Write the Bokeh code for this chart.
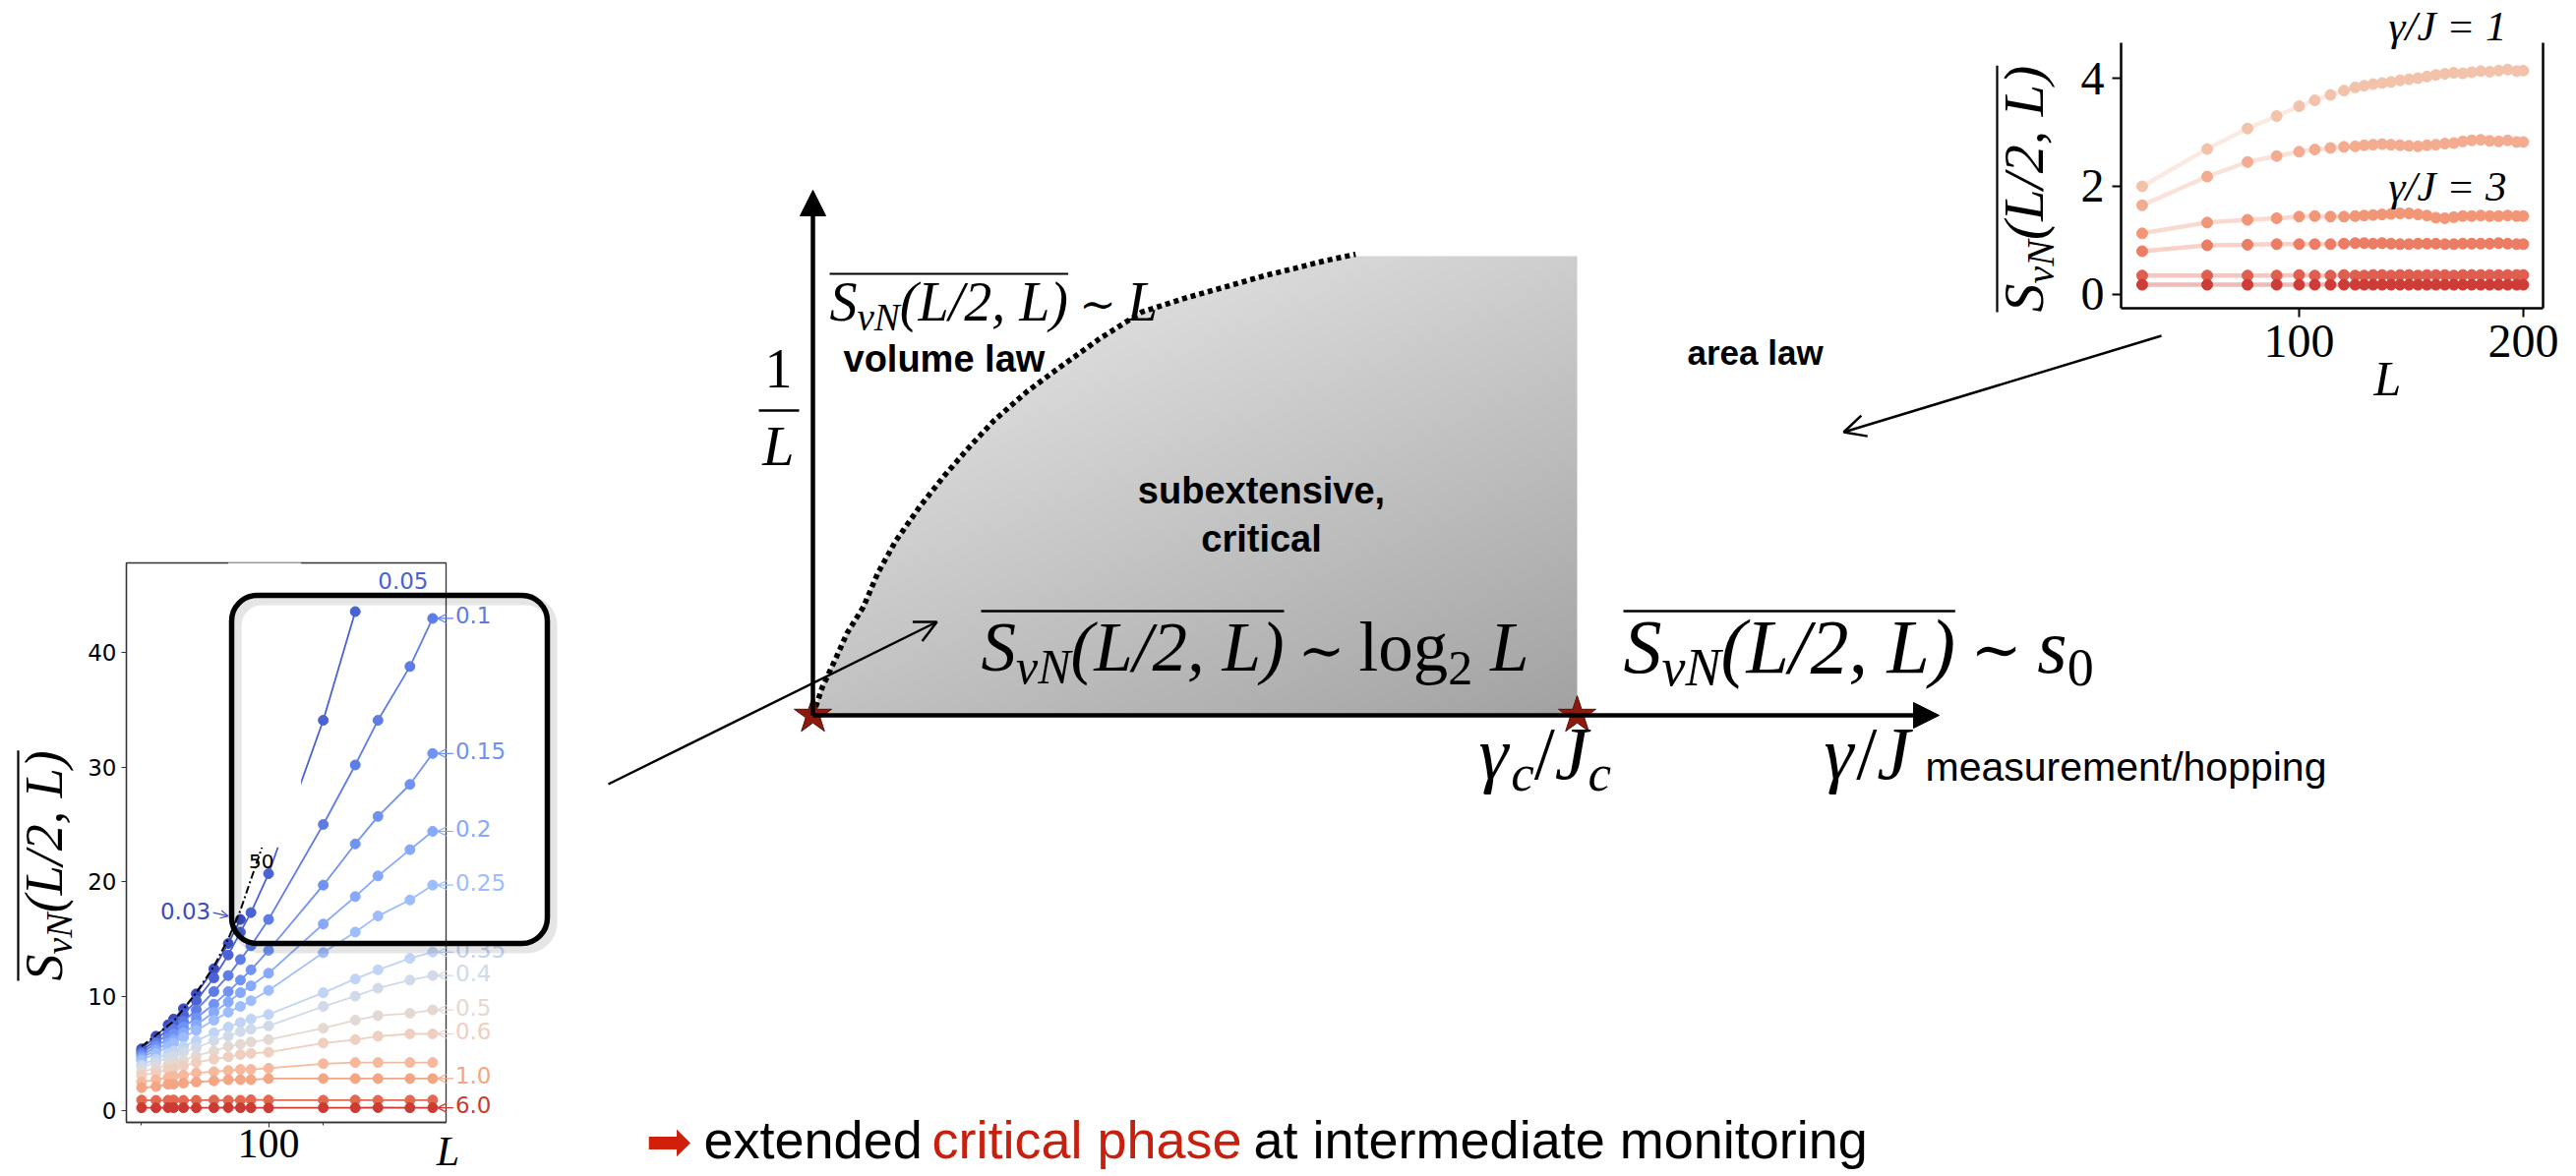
import numpy as np
from math import pi, log10

from bokeh.plotting import figure
from bokeh.layouts import column
from bokeh.models import (Range1d, Label, Arrow, OpenHead, NormalHead, BoxAnnotation,
                          FixedTicker, PrintfTickFormatter, LinearAxis, GridBox)
from bokeh.embed import file_html
from bokeh.resources import INLINE

SERIF = "Liberation Serif"
SANS = "Liberation Sans"

# ---------------- left inset: half-chain entanglement vs L ----------------
L_left = [20, 24, 28, 30, 34, 40, 50, 60, 70, 80, 100, 200, 300, 400, 600, 800]
S_g003 = [5.4, 6.5, 7.5, 8.0, 8.9, 10.2, 12.4, 14.6, 16.7]
S_g005 = [5.2, 6.2, 7.1, 7.6, 8.4, 9.6, 11.6, 13.6, 15.6, 17.3, 20.7, 34.1, 43.6]
S_g010 = [5.0, 5.9, 6.7, 7.1, 7.8, 8.8, 10.4, 11.8, 13.2, 14.4, 16.7, 25.0, 30.2, 34.1, 38.8, 43.0]
S_g015 = [4.8, 5.6, 6.3, 6.7, 7.3, 8.1, 9.3, 10.4, 11.4, 12.3, 14.0, 19.7, 23.3, 25.7, 28.5, 31.2]
S_g020 = [4.6, 5.3, 5.9, 6.2, 6.8, 7.5, 8.6, 9.5, 10.3, 10.9, 12.0, 16.3, 18.7, 20.5, 22.8, 24.4]
S_g025 = [4.4, 5.0, 5.6, 5.9, 6.4, 7.0, 7.9, 8.6, 9.1, 9.6, 10.5, 13.8, 15.6, 17.0, 18.4, 19.7]
S_g035 = [4.0, 4.5, 5.0, 5.2, 5.6, 6.1, 6.8, 7.3, 7.7, 8.0, 8.4, 10.3, 11.5, 12.3, 13.3, 13.85]
S_g040 = [3.8, 4.2, 4.6, 4.8, 5.1, 5.5, 6.1, 6.5, 6.9, 7.1, 7.4, 9.1, 10.0, 10.7, 11.4, 11.8]
S_g050 = [3.4, 3.7, 4.0, 4.2, 4.4, 4.8, 5.2, 5.6, 5.8, 6.0, 6.2, 7.2, 7.9, 8.3, 8.5, 8.8]
S_g060 = [3.1, 3.3, 3.6, 3.7, 3.9, 4.2, 4.5, 4.7, 4.9, 5.0, 5.1, 5.9, 6.2, 6.5, 6.7, 6.7]
S_g080 = [2.5, 2.7, 2.9, 3.0, 3.1, 3.3, 3.4, 3.5, 3.6, 3.6, 3.7, 4.1, 4.2, 4.2, 4.2, 4.2]
S_g100 = [2.0, 2.1, 2.3, 2.3, 2.4, 2.5, 2.6, 2.7, 2.7, 2.7, 2.8, 2.8, 2.8, 2.8, 2.8, 2.8]
S_g300 = [0.92, 0.90, 0.91, 0.93, 0.90, 0.91, 0.92, 0.90, 0.91, 0.95, 0.92, 0.91, 0.92, 0.91, 0.91, 0.92]
S_g600 = [0.25, 0.24, 0.26, 0.25, 0.25, 0.24, 0.25, 0.26, 0.25, 0.25, 0.24, 0.25, 0.25, 0.26, 0.25, 0.25]
# dash-dot reference line
L_ref = [20, 30, 40, 50, 60, 70, 80, 92]
S_ref = [5.6, 7.8, 10.3, 12.6, 15.0, 17.5, 20.2, 23.0]

# ---------------- right inset: area-law saturation ----------------
L_right = [30, 59, 77, 90, 100, 107, 114, 120, 125, 129, 133, 137, 141, 145, 149, 153, 157,
           161, 165, 169, 173, 177, 181, 185, 189, 193, 197, 200]
S_gJ1 = [2.00, 2.69, 3.07, 3.30, 3.48, 3.59, 3.69, 3.77, 3.83, 3.86, 3.89, 3.91, 3.93, 3.96,
         3.98, 4.00, 4.03, 4.06, 4.08, 4.10, 4.09, 4.11, 4.13, 4.12, 4.14, 4.16, 4.13, 4.14]
S_gJ2 = [1.65, 2.18, 2.45, 2.56, 2.64, 2.68, 2.71, 2.73, 2.74, 2.76, 2.77, 2.78, 2.77, 2.76,
         2.75, 2.74, 2.76, 2.77, 2.79, 2.80, 2.83, 2.85, 2.86, 2.84, 2.83, 2.85, 2.82, 2.82]
S_gJ3 = [1.13, 1.33, 1.38, 1.41, 1.44, 1.45, 1.44, 1.44, 1.45, 1.46, 1.47, 1.48, 1.49, 1.50,
         1.50, 1.48, 1.46, 1.42, 1.41, 1.43, 1.45, 1.45, 1.46, 1.45, 1.45, 1.46, 1.45, 1.45]
S_gJ4 = [0.80, 0.91, 0.92, 0.93, 0.93, 0.93, 0.93, 0.94, 0.95, 0.95, 0.94, 0.95, 0.94, 0.93,
         0.93, 0.94, 0.94, 0.94, 0.93, 0.93, 0.94, 0.94, 0.94, 0.94, 0.95, 0.94, 0.93, 0.93]
S_gJ5 = [0.35, 0.35, 0.35, 0.35, 0.36, 0.35, 0.35, 0.36, 0.35, 0.35, 0.36, 0.36, 0.35, 0.36,
         0.36, 0.35, 0.36, 0.36, 0.36, 0.35, 0.36, 0.36, 0.36, 0.36, 0.36, 0.36, 0.36, 0.36]
S_gJ6 = [0.18, 0.18, 0.18, 0.18, 0.18, 0.18, 0.18, 0.18, 0.18, 0.18, 0.18, 0.18, 0.18, 0.18,
         0.18, 0.18, 0.18, 0.18, 0.18, 0.18, 0.18, 0.18, 0.18, 0.18, 0.18, 0.18, 0.18, 0.18]

# ---------------- phase diagram ----------------
bound_gamma = [0.000, 0.012, 0.031, 0.045, 0.066, 0.085, 0.108, 0.140, 0.172, 0.205, 0.237,
               0.280, 0.323, 0.375, 0.430, 0.490, 0.546, 0.590, 0.632, 0.670, 0.710]
bound_invL = [0.000, 0.060, 0.128, 0.180, 0.236, 0.310, 0.379, 0.455, 0.522, 0.585, 0.642,
              0.705, 0.758, 0.820, 0.878, 0.910, 0.936, 0.957, 0.974, 0.990, 1.004]
crit_gamma = [0.0, 1.0]
crit_invL = [0.0, 0.0]

# glyph advance widths (per 1000 em) for laying out formula runs
IT = {'S': 500, 'v': 444, 'N': 667, '(': 333, ')': 333, 'L': 556, '/': 278, '2': 500, ',': 250,
      ' ': 250, 's': 389, '0': 500, 'γ': 430, 'J': 444, 'c': 444, '=': 675, '1': 500, '3': 500}
RM = {'(': 333, ')': 333, '2': 500, ',': 250, ' ': 250, 'l': 278, 'o': 500, 'g': 500,
      '0': 500, '1': 500, '/': 278, '=': 564, '3': 500}
SYM = {'∼': 838}


def adv(txt, size, style):
    tab = {"it": IT, "rm": RM, "sym": SYM}[style]
    return sum(tab.get(c, 500) for c in txt) * size / 1000.0


# frame geometry of the two insets on the page
LX0, LX1, LY0, LY1 = 128, 453, 572, 1141          # left inset frame (px)
L_XR, L_YR = (16.5, 948.0), (-1.03, 47.85)
RX0, RX1, RY0, RY1 = 2156, 2585, 43, 313          # right inset frame (px)
R_XR, R_YR = (20.6, 208.8), (-0.255, 4.655)


def lpx(L):
    a, b = log10(L_XR[0]), log10(L_XR[1])
    return LX0 + (log10(L) - a) / (b - a) * (LX1 - LX0)


def lpy(S):
    return LY1 - (S - L_YR[0]) / (L_YR[1] - L_YR[0]) * (LY1 - LY0)


def rpx(L):
    return RX0 + (L - R_XR[0]) / (R_XR[1] - R_XR[0]) * (RX1 - RX0)


def rpy(S):
    return RY1 - (S - R_YR[0]) / (R_YR[1] - R_YR[0]) * (RY1 - RY0)


# =============== left inset figure ===============
pl = figure(width=560, height=636, x_axis_type="log", x_range=Range1d(*L_XR),
            y_range=Range1d(*L_YR), output_backend="svg", toolbar_location=None,
            min_border_left=LX0, min_border_right=560 - LX1, min_border_top=LY0 - 560,
            min_border_bottom=1196 - LY1,
            background_fill_color="white", border_fill_color=None,
            outline_line_color="#333333", outline_line_width=1.3)
pl.grid.visible = False

left_series = [
    ("0.03", S_g003, "#3b4cc0"), ("0.05", S_g005, "#4a62d3"), ("0.1", S_g010, "#5d7ce6"),
    ("0.15", S_g015, "#7093f3"), ("0.2", S_g020, "#86a9fc"), ("0.25", S_g025, "#9dbdff"),
    ("0.35", S_g035, "#c0d4f5"), ("0.4", S_g040, "#d1dae9"), ("0.5", S_g050, "#e4d9d2"),
    ("0.6", S_g060, "#efcfbf"), ("0.8", S_g080, "#f6b99e"), ("1.0", S_g100, "#f4a584"),
    ("3.0", S_g300, "#e2684f"), ("6.0", S_g600, "#cc3b33"),
]
for name, vals, col in left_series:
    xs = L_left[:len(vals)]
    pl.line(xs, vals, line_color=col, line_width=1.8)
    pl.scatter(xs, vals, size=10, fill_color=col, line_color=col)

pl.line(L_ref, S_ref, line_color="black", line_width=2, line_dash="8 3 2 3")
# blank patch where the curves are hidden behind the zoom frame
pl.quad(left=[60], right=[151], bottom=[23.0], top=[49.0], fill_color="white", line_color=None)

pl.add_layout(Label(x=400, y=46.3, text="0.05", text_font="DejaVu Sans", text_font_size="23px",
                    text_color="#4a62d3", text_baseline="middle"))
pl.add_layout(Label(x=48, y=17.4, text="0.03", text_font="DejaVu Sans", text_font_size="23px",
                    text_color="#3b4cc0", text_baseline="middle", text_align="right"))
pl.add_layout(Arrow(end=OpenHead(size=8, line_color="#3b4cc0", line_width=1.2), x_start=49.5,
                    y_start=17.3, x_end=60, y_end=17.0, line_color="#3b4cc0", line_width=1.2))
pl.add_layout(Label(x=78, y=21.8, text="50", text_font="DejaVu Sans", text_font_size="20px",
                    text_color="black", text_baseline="middle"))

pl.xaxis.ticker = FixedTicker(ticks=[100], minor_ticks=[20, 200])
pl.xaxis.formatter = PrintfTickFormatter(format="%d")
pl.xaxis.major_label_text_font = SERIF
pl.xaxis.major_label_text_font_size = "42px"
pl.xaxis.major_label_standoff = 2
pl.yaxis.ticker = FixedTicker(ticks=[0, 10, 20, 30, 40])
pl.yaxis.major_label_text_font = "DejaVu Sans"
pl.yaxis.major_label_text_font_size = "23px"
pl.yaxis.major_label_standoff = 5
for ax in (pl.xaxis[0], pl.yaxis[0]):
    ax.axis_line_color = "#333333"
    ax.axis_line_width = 1.3
    ax.major_tick_line_color = "#333333"
    ax.minor_tick_line_color = "#333333"
    ax.major_tick_out = 5
    ax.major_tick_in = 0
    ax.minor_tick_out = 3
    ax.minor_tick_in = 0
    ax.major_label_text_color = "black"

# =============== right inset figure ===============
pr = figure(width=659, height=430, x_range=Range1d(*R_XR), y_range=Range1d(*R_YR),
            output_backend="svg", toolbar_location=None,
            min_border_left=RX0 - 1960, min_border_right=2619 - RX1, min_border_top=RY0,
            min_border_bottom=430 - RY1,
            background_fill_color="white", border_fill_color=None, outline_line_color=None)
pr.grid.visible = False
right_series = [
    (S_gJ1, "#f2c3aa"), (S_gJ2, "#f4ac91"), (S_gJ3, "#f29678"),
    (S_gJ4, "#ea7d64"), (S_gJ5, "#de5f50"), (S_gJ6, "#cd3c37"),
]
for vals, col in right_series:
    pr.line(L_right, vals, line_color=col, line_alpha=0.35, line_width=4.5)
    pr.scatter(L_right, vals, size=11, fill_color=col, line_color=col)

pr.add_layout(LinearAxis(ticker=FixedTicker(ticks=[]), major_label_text_font_size="0px",
                         axis_line_width=2.5, axis_line_color="black"), "right")
pr.xaxis[0].ticker = FixedTicker(ticks=[100, 200])
pr.yaxis[0].ticker = FixedTicker(ticks=[0, 2, 4])
for ax in (pr.xaxis[0], pr.yaxis[0]):
    ax.axis_line_width = 2.5
    ax.axis_line_color = "black"
    ax.major_tick_line_width = 2
    ax.major_tick_out = 9
    ax.major_tick_in = 0
    ax.minor_tick_line_color = None
    ax.major_label_text_font = SERIF
    ax.major_label_text_font_size = "48px"
    ax.major_label_text_color = "black"
    ax.major_label_standoff = 8

# =============== phase diagram / annotation layer ===============
X0, KX, Y0, KY = 826.0, 777.0, 727.0, 467.0


def gx(px):
    return (px - X0) / KX


def gy(py):
    return (Y0 - py) / KY


p = figure(width=2619, height=1196, x_range=Range1d(gx(0), gx(2619)),
           y_range=Range1d(gy(1196), gy(0)), x_axis_location=None, y_axis_location=None,
           toolbar_location=None, output_backend="svg", min_border=0,
           background_fill_color=None, border_fill_color=None, outline_line_color=None)
p.grid.visible = False

# shaded critical region with a diagonal grey gradient
nx, ny = 777, 467
gxs = (np.arange(nx) + 0.5) / nx
gys = (np.arange(ny) + 0.5) / ny
GX, GY = np.meshgrid(gxs, gys)
edge = np.interp(GY, bound_invL, bound_gamma)
shade = np.clip(238 - 32 * GX - 44 * (1 - GY), 0, 255).astype(np.uint8)
img = np.zeros((ny, nx), dtype=np.uint32)
view = img.view(dtype=np.uint8).reshape((ny, nx, 4))
view[..., 0] = shade
view[..., 1] = shade
view[..., 2] = shade
view[..., 3] = np.where(GX >= edge, 255, 0).astype(np.uint8)
p.image_rgba(image=[img], x=0, y=0, dw=1.0, dh=1.0)

p.line(bound_gamma, bound_invL, line_color="black", line_width=5.5, line_dash="5 4")

# axes of the diagram
p.add_layout(Arrow(end=NormalHead(size=26, fill_color="black", line_color="black"),
                   x_start=0, y_start=0, x_end=gx(1971), y_end=0, line_width=4.5))
p.add_layout(Arrow(end=NormalHead(size=26, fill_color="black", line_color="black"),
                   x_start=0, y_start=0, x_end=0, y_end=gy(193), line_width=4.5))
p.scatter(crit_gamma, crit_invL, marker="star", size=40, fill_color="#8c1a0f",
          line_color="#5a0c05", line_width=1)

BASE_SHIFT = 0.32   # text sits this many em below the anchor when set on the alphabetic line


def label(px, py, txt, font=SANS, size=38, style="normal", color="black", align="left",
          baseline="alphabetic", angle=0.0):
    if baseline == "alphabetic":
        if angle:
            px -= BASE_SHIFT * size
        else:
            py -= BASE_SHIFT * size
    p.add_layout(Label(x=gx(px), y=gy(py), text=txt, angle=angle, text_font=font,
                       text_font_style=style, text_font_size=f"{size}px", text_color=color,
                       text_align=align, text_baseline=baseline))


def run(px, py, pieces, vertical=False, color="black"):
    pos = []
    a = 0.0
    for txt, size, drop, style in pieces:
        if txt.strip():
            fstyle = "italic" if style == "it" else "normal"
            font = "DejaVu Serif" if style == "sym" else SERIF
            if vertical:
                label(px + drop, py - a, txt, font, size, fstyle, color, angle=pi / 2)
            else:
                label(px + a, py + drop, txt, font, size, fstyle, color)
        a += adv(txt, size, style)
        pos.append(a)
    return pos


def hbar(px0, px1, py, w=2.2, color="black"):
    p.segment(x0=[gx(px0)], y0=[gy(py)], x1=[gx(px1)], y1=[gy(py)], line_color=color,
              line_width=w)


def vbar(px, py0, py1, w=2.2):
    p.segment(x0=[gx(px)], y0=[gy(py0)], x1=[gx(px)], y1=[gy(py1)], line_color="black",
              line_width=w)


def sim(F):
    # relation sign with its surrounding spaces
    return [(" ", F * 0.8, 0, "it"), ("∼", F * 0.8, -0.02 * F, "sym"), (" ", F * 0.8, 0, "it")]


# volume-law formula
F = 56
pos = run(843, 324, [("S", F, 0, "it"), ("vN", 39, 10, "it"), ("(L/2, L)", F, 0, "it")]
          + sim(F) + [("L", F, 0, "it")])
hbar(843, 843 + pos[2], 278)

# critical-phase formula
F = 71
pos = run(997, 680, [("S", F, 0, "it"), ("vN", 50, 13, "it"), ("(L/2, L)", F, 0, "it")]
          + sim(F) + [("log", F, 0, "rm"), ("2", 50, 15, "rm"), (" ", F, 0, "it"),
                      ("L", F, 0, "it")])
hbar(997, 997 + pos[2], 621, 2.6)

# area-law formula
F = 78
pos = run(1650, 682, [("S", F, 0, "it"), ("vN", 54, 14, "it"), ("(L/2, L)", F, 0, "it")]
          + sim(F) + [("s", F, 0, "it"), ("0", 54, 14, "rm")])
hbar(1650, 1650 + pos[2], 621, 2.6)

# axis titles of the diagram
run(1503, 790, [("γ", 76, 0, "it"), ("c", 53, 12, "it"), ("/", 76, 0, "rm"),
                ("J", 76, 0, "it"), ("c", 53, 12, "it")])
run(1854, 790, [("γ", 76, 0, "it"), ("/", 76, 0, "rm"), ("J", 76, 0, "it")])
label(1957, 793, "measurement/hopping", SANS, 41)
label(791, 392, "1", SERIF, 56, align="center")
hbar(771, 812, 417, 2.5)
label(791, 472, "L", SERIF, 58, "italic", align="center")

# phase names
label(857, 377, "volume law", SANS, 38, "bold")
label(1282, 511, "subextensive,", SANS, 38, "bold", align="center")
label(1282, 560, "critical", SANS, 38, "bold", align="center")
label(1715, 369, "area law", SANS, 35, "bold")

# ---- texts belonging to the left inset ----
pos = run(62, 997, [("S", 54, 0, "it"), ("vN", 38, 10, "it"), ("(L/2, L)", 54, 0, "it")],
          vertical=True)
vbar(18, 997, 997 - pos[2])
label(455, 1184, "L", SERIF, 42, "italic", align="center")
labelled = {"0.1", "0.15", "0.2", "0.25", "0.35", "0.4", "0.5", "0.6", "1.0", "6.0"}
for name, vals, col in left_series:
    if name in labelled:
        x_end, y_end = lpx(L_left[len(vals) - 1]), lpy(vals[-1])
        label(x_end + 23, y_end - 3, name, "DejaVu Sans", 23, color=col, baseline="middle")
        p.add_layout(Arrow(end=OpenHead(size=9, line_color=col, line_width=1.2),
                           x_start=gx(x_end + 21), y_start=gy(y_end), x_end=gx(x_end + 5),
                           y_end=gy(y_end), line_color=col, line_width=1.2))

# ---- texts belonging to the right inset ----
pos = run(2076, 317, [("S", 58, 0, "it"), ("vN", 40, 11, "it"), ("(L/2, L)", 58, 0, "it")],
          vertical=True)
vbar(2030, 317, 317 - pos[2])
label(2413, 400, "L", SERIF, 50, "italic")
label(2428, rpy(4.71), "γ/J = 1", SERIF, 43, "italic")
label(2428, rpy(1.745), "γ/J = 3", SERIF, 43, "italic")

# zoom frame around the large-L data of the left inset
p.add_layout(BoxAnnotation(left=gx(240), right=gx(561), top=gy(610), bottom=gy(964),
                           fill_color=None, line_color="black", line_alpha=0.10, line_width=10,
                           border_radius=26))
p.add_layout(BoxAnnotation(left=gx(235), right=gx(556), top=gy(605), bottom=gy(959),
                           fill_color=None, line_color="black", line_alpha=1.0, line_width=5.5,
                           border_radius=26))

# pointers from the insets into the diagram
p.add_layout(Arrow(end=OpenHead(size=22, line_width=2.5), x_start=gx(618), y_start=gy(797),
                   x_end=gx(952), y_end=gy(632), line_width=2.5))
p.add_layout(Arrow(end=OpenHead(size=22, line_width=2.5), x_start=gx(2197), y_start=gy(341),
                   x_end=gx(1874), y_end=gy(439), line_width=2.5))

# take-away line
label(656, 1160, "➡", "DejaVu Sans", 56, color="#d0200a", baseline="middle")
BS = 54
label(715, 1176, "extended", SANS, BS)
label(947, 1176, "critical phase", SANS, BS, color="#c8200e")
label(1274, 1176, "at intermediate monitoring", SANS, BS)

grid = GridBox(children=[(column(pl), 2, 0), (column(pr), 0, 2), (column(p), 0, 0, 3, 3)],
               rows=["430px", "130px", "636px"], cols=["560px", "1400px", "659px"])

open("out.html", "w").write(file_html(grid, INLINE))
